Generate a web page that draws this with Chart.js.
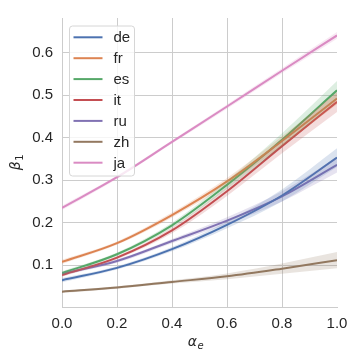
<!DOCTYPE html>
<html>
<head>
<meta charset="utf-8">
<script src="https://cdn.jsdelivr.net/npm/chart.js@4.4.0/dist/chart.umd.min.js"></script>
<style>
  html, body { margin: 0; padding: 0; background: #fff; }
  #wrap { width: 360px; height: 360px; }
</style>
</head>
<body>
<div id="wrap"><canvas id="grafico" width="360" height="360"></canvas></div>
<script>
// valores
const alphaE = [0, 0.2, 0.4, 0.6, 0.8, 1.0];
const xTicks = [0, 0.2, 0.4, 0.6, 0.8, 1.0];
const yTicks = [0.1, 0.2, 0.3, 0.4, 0.5, 0.6];
const langs = ['de', 'fr', 'es', 'it', 'ru', 'zh', 'ja'];

const beta_de = [0.065, 0.094, 0.138, 0.195, 0.264, 0.353];
const beta_fr = [0.108, 0.152, 0.218, 0.297, 0.392, 0.492];
const beta_es = [0.082, 0.126, 0.194, 0.289, 0.395, 0.511];
const beta_it = [0.077, 0.118, 0.182, 0.274, 0.380, 0.484];
const beta_ru = [0.080, 0.110, 0.157, 0.205, 0.262, 0.336];
const beta_zh = [0.038, 0.048, 0.061, 0.074, 0.092, 0.112];
const beta_ja = [0.235, 0.307, 0.390, 0.473, 0.557, 0.640];

// meia largura do intervalo de confiança
const ci_de = [0.005, 0.004, 0.005, 0.008, 0.014, 0.022];
const ci_fr = [0.005, 0.004, 0.006, 0.008, 0.011, 0.014];
const ci_es = [0.004, 0.004, 0.006, 0.010, 0.015, 0.022];
const ci_it = [0.004, 0.004, 0.007, 0.011, 0.017, 0.024];
const ci_ru = [0.004, 0.004, 0.005, 0.008, 0.012, 0.018];
const ci_zh = [0.003, 0.003, 0.004, 0.007, 0.012, 0.019];
const ci_ja = [0.005, 0.004, 0.004, 0.005, 0.006, 0.008];

const series = { de: beta_de, fr: beta_fr, es: beta_es, it: beta_it, ru: beta_ru, zh: beta_zh, ja: beta_ja };
const bands = { de: ci_de, fr: ci_fr, es: ci_es, it: ci_it, ru: ci_ru, zh: ci_zh, ja: ci_ja };

const cores = {
    de: '76,114,176', fr: '221,132,82', es: '85,168,104', it: '196,78,82',
    ru: '129,114,179', zh: '147,120,96', ja: '218,139,195'
};

const pts = (ys) => alphaE.map((x, i) => ({ x: x, y: ys[i] }));

const datasets = [];
langs.forEach(l => {
    datasets.push({
        label: l + '_lo', data: pts(series[l].map((v, i) => v - bands[l][i])),
        borderWidth: 0, pointRadius: 0, fill: false, cubicInterpolationMode: 'monotone'
    });
    datasets.push({
        label: l + '_hi', data: pts(series[l].map((v, i) => v + bands[l][i])),
        borderWidth: 0, pointRadius: 0, fill: '-1', cubicInterpolationMode: 'monotone',
        backgroundColor: 'rgba(' + cores[l] + ',0.2)'
    });
});
langs.forEach(l => {
    datasets.push({
        label: l, data: pts(series[l]), borderColor: 'rgb(' + cores[l] + ')',
        borderWidth: 2, pointRadius: 0, fill: false, cubicInterpolationMode: 'monotone'
    });
});

// rótulo com índice (tipo mathtext)
function rotuloMat(ctx, base, sub, subItalic, cx, cy, rot) {
    const fBase = 'italic 14px "DejaVu Sans", sans-serif';
    const fSub = (subItalic ? 'italic ' : '') + '10px "DejaVu Sans", sans-serif';
    ctx.save();
    ctx.translate(cx, cy);
    ctx.rotate(rot);
    ctx.font = fBase;
    const w1 = ctx.measureText(base).width;
    ctx.font = fSub;
    const w2 = ctx.measureText(sub).width;
    const x0 = -(w1 + w2) / 2;
    ctx.fillStyle = '#262626';
    ctx.textBaseline = 'alphabetic';
    ctx.font = fBase;
    ctx.fillText(base, x0, 0);
    ctx.font = fSub;
    ctx.fillText(sub, x0 + w1 + 0.5, 3);
    ctx.restore();
}

const legendaPlugin = {
    id: 'legenda',
    afterDatasetsDraw(chart) {
        const ctx = chart.ctx;
        const a = chart.chartArea;
        const x0 = a.left + 7, y0 = a.top + 7.5, w = 65, h = 150;
        ctx.save();
        ctx.beginPath();
        ctx.roundRect(x0 + 0.5, y0 + 0.5, w, h, 3);
        ctx.fillStyle = 'rgba(255,255,255,0.8)';
        ctx.fill();
        ctx.strokeStyle = '#d6d6d6';
        ctx.lineWidth = 1;
        ctx.stroke();
        ctx.font = '15px "Liberation Sans", Arial, sans-serif';
        ctx.textBaseline = 'middle';
        ctx.fillStyle = '#262626';
        langs.forEach((l, i) => {
            const y = y0 + 11.8 + i * 20.9;
            ctx.beginPath();
            ctx.moveTo(x0 + 4.5, y);
            ctx.lineTo(x0 + 33.5, y);
            ctx.strokeStyle = 'rgb(' + cores[l] + ')';
            ctx.lineWidth = 2;
            ctx.stroke();
            ctx.fillText(l, x0 + 44.5, y + 1);
        });
        ctx.restore();
    },
    afterDraw(chart) {
        const ctx = chart.ctx;
        const a = chart.chartArea;
        rotuloMat(ctx, 'α', 'e', true, (a.left + a.right) / 2 - 4, 345.5, 0);
        rotuloMat(ctx, 'β', '1', false, 20, (a.top + a.bottom) / 2, -Math.PI / 2);
    }
};

const tickFont = { family: '"Liberation Sans", Arial, sans-serif', size: 15 };

new Chart(document.getElementById('grafico').getContext('2d'), {
    type: 'line',
    data: { datasets: datasets },
    options: {
        responsive: false,
        animation: false,
        devicePixelRatio: 1,
        layout: { padding: { left: 0, right: 23, top: 13, bottom: 0 } },
        plugins: { legend: { display: false }, tooltip: { enabled: false } },
        scales: {
            x: {
                type: 'linear', min: 0, max: 1,
                afterBuildTicks: (s) => { s.ticks = xTicks.map(v => ({ value: v })); },
                afterFit: (s) => { s.height = 53; },
                ticks: { font: tickFont, color: '#262626', padding: 8, callback: (v) => v.toFixed(1), maxRotation: 0 },
                grid: { color: (c) => c.tick && c.tick.value === 1 ? 'rgba(0,0,0,0)' : '#cccccc', drawTicks: false },
                border: { color: '#cccccc' }
            },
            y: {
                type: 'linear', min: 0.002, max: 0.681,
                afterBuildTicks: (s) => { s.ticks = yTicks.map(v => ({ value: v })); },
                afterFit: (s) => { s.width = 62; },
                ticks: { font: tickFont, color: '#262626', padding: 9, callback: (v) => v.toFixed(1) },
                grid: { color: '#cccccc', drawTicks: false },
                border: { color: '#cccccc' }
            }
        }
    },
    plugins: [legendaPlugin]
});
</script>
</body>
</html>
